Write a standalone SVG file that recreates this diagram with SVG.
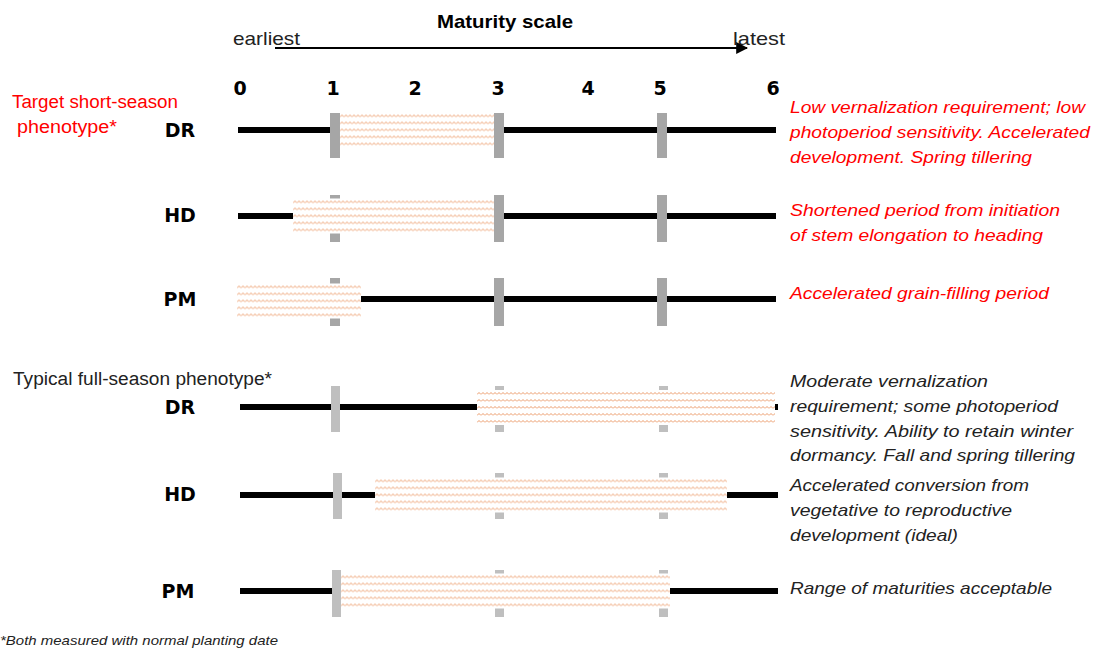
<svg xmlns="http://www.w3.org/2000/svg" width="1094" height="650" viewBox="0 0 1094 650">
<defs>
<pattern id="hatch" patternUnits="userSpaceOnUse" width="4" height="7">
<rect x="0" y="0" width="4" height="7" fill="#fff"/>
<path d="M0 4.5 L2 2.5 L4 4.5" fill="none" stroke="#eb9a68" stroke-width="1"/>
</pattern>
<marker id="arr" viewBox="0 0 10 10" refX="9" refY="5" markerWidth="6" markerHeight="6" orient="auto">
<path d="M0 0 L10 5 L0 10 z" fill="#000"/>
</marker>
</defs>
<style>
.t{font-family:"Liberation Sans",Arial,sans-serif}
.lab{font-family:"DejaVu Sans","Liberation Sans",sans-serif;font-weight:bold;font-size:19px;fill:#000;text-anchor:middle}
.num{font-family:"DejaVu Sans","Liberation Sans",sans-serif;font-weight:bold;font-size:19px;fill:#000;text-anchor:middle}
.desc{font-family:"Liberation Sans",Arial,sans-serif;font-style:italic;font-size:17px}
.red{fill:#ff0000}
.blk{fill:#222}
.line{stroke:#000;stroke-width:6}
.bar1{fill:#a6a6a6}
.bar2{fill:#bfbfbf}
.hb{fill:url(#hatch)}
</style>
<rect width="1094" height="650" fill="#fff"/>

<g id="header">
<text class="t" x="505" y="28" font-size="19" font-weight="bold" text-anchor="middle" fill="#000" textLength="136" lengthAdjust="spacingAndGlyphs">Maturity scale</text>
<text class="t" x="233" y="45" font-size="19" fill="#222" textLength="67" lengthAdjust="spacingAndGlyphs">earliest</text>
<text class="t" x="733" y="45" font-size="19" fill="#222" textLength="52" lengthAdjust="spacingAndGlyphs">latest</text>
</g>
<g id="connectors">
<line x1="275" y1="48" x2="747" y2="48" stroke="#000" stroke-width="2" marker-end="url(#arr)"/>
</g>
<g id="scale">
<text class="num" x="240" y="95">0</text>
<text class="num" x="333" y="95">1</text>
<text class="num" x="415" y="95">2</text>
<text class="num" x="498" y="95">3</text>
<text class="num" x="588" y="95">4</text>
<text class="num" x="660" y="95">5</text>
<text class="num" x="773" y="95">6</text>
</g>

<g id="short-title">
<text class="t red" x="12" y="108" font-size="18" textLength="166" lengthAdjust="spacingAndGlyphs">Target short-season</text>
<text class="t red" x="17" y="133" font-size="18" textLength="100" lengthAdjust="spacingAndGlyphs">phenotype*</text>
</g>

<g id="short-DR">
<text class="lab" x="180" y="137">DR</text>
<line class="line" x1="238" y1="130" x2="776" y2="130"/>
<rect class="bar1" x="330" y="113" width="10" height="45"/>
<rect class="bar1" x="494" y="113" width="10" height="45"/>
<rect class="bar1" x="657" y="113" width="10" height="45"/>
<g transform="translate(340,112.5)"><rect class="hb" x="0" y="0" width="154" height="35"/></g>
</g>

<g id="short-HD">
<text class="lab" x="180" y="222">HD</text>
<line class="line" x1="238" y1="216" x2="776" y2="216"/>
<rect class="bar1" x="330" y="195" width="10" height="47"/>
<rect class="bar1" x="657" y="195" width="10" height="47"/>
<g transform="translate(293,198.5)"><rect class="hb" x="0" y="0" width="202" height="35"/></g>
<rect class="bar1" x="494" y="195" width="10" height="47"/>
</g>

<g id="short-PM">
<text class="lab" x="180" y="306">PM</text>
<line class="line" x1="360" y1="299" x2="776" y2="299"/>
<rect class="bar1" x="330" y="278" width="10" height="48"/>
<rect class="bar1" x="494" y="278" width="10" height="48"/>
<rect class="bar1" x="657" y="278" width="10" height="48"/>
<g transform="translate(237,283.5)"><rect class="hb" x="0" y="0" width="124" height="35"/></g>
</g>

<g id="full-title">
<text class="t blk" x="13" y="385" font-size="18" textLength="259" lengthAdjust="spacingAndGlyphs">Typical full-season phenotype*</text>
</g>

<g id="full-DR">
<text class="lab" x="180" y="414">DR</text>
<line class="line" x1="240" y1="407" x2="778" y2="407"/>
<rect class="bar2" x="331" y="386" width="9" height="46"/>
<rect class="bar2" x="495" y="386" width="9" height="46"/>
<rect class="bar2" x="659" y="386" width="9" height="46"/>
<g transform="translate(477,390)"><rect class="hb" x="0" y="0" width="298" height="35"/></g>
</g>

<g id="full-HD">
<text class="lab" x="180" y="501">HD</text>
<line class="line" x1="240" y1="495" x2="778" y2="495"/>
<rect class="bar2" x="333" y="473" width="9" height="46"/>
<rect class="bar2" x="495" y="473" width="9" height="46"/>
<rect class="bar2" x="659" y="473" width="9" height="46"/>
<g transform="translate(375,477.5)"><rect class="hb" x="0" y="0" width="352" height="35"/></g>
</g>

<g id="full-PM">
<text class="lab" x="178" y="598">PM</text>
<line class="line" x1="240" y1="591" x2="778" y2="591"/>
<rect class="bar2" x="495" y="570" width="9" height="47"/>
<rect class="bar2" x="659" y="570" width="9" height="47"/>
<g transform="translate(341,573.5)"><rect class="hb" x="0" y="0" width="329" height="35"/></g>
<rect class="bar2" x="332" y="570" width="9" height="47"/>
</g>

<g id="desc-short">
<text class="desc red" x="790" y="113" textLength="295" lengthAdjust="spacingAndGlyphs">Low vernalization requirement; low</text>
<text class="desc red" x="790" y="138" textLength="300" lengthAdjust="spacingAndGlyphs">photoperiod sensitivity. Accelerated</text>
<text class="desc red" x="790" y="163" textLength="242" lengthAdjust="spacingAndGlyphs">development. Spring tillering</text>
<text class="desc red" x="790" y="216" textLength="270" lengthAdjust="spacingAndGlyphs">Shortened period from initiation</text>
<text class="desc red" x="790" y="241" textLength="253" lengthAdjust="spacingAndGlyphs">of stem elongation to heading</text>
<text class="desc red" x="790" y="299" textLength="259" lengthAdjust="spacingAndGlyphs">Accelerated grain-filling period</text>
</g>

<g id="desc-full">
<text class="desc blk" x="790" y="387" textLength="198" lengthAdjust="spacingAndGlyphs">Moderate vernalization</text>
<text class="desc blk" x="790" y="412" textLength="268" lengthAdjust="spacingAndGlyphs">requirement; some photoperiod</text>
<text class="desc blk" x="790" y="437" textLength="283" lengthAdjust="spacingAndGlyphs">sensitivity. Ability to retain winter</text>
<text class="desc blk" x="790" y="461" textLength="285" lengthAdjust="spacingAndGlyphs">dormancy. Fall and spring tillering</text>
<text class="desc blk" x="790" y="491" textLength="239" lengthAdjust="spacingAndGlyphs">Accelerated conversion from</text>
<text class="desc blk" x="790" y="516" textLength="222" lengthAdjust="spacingAndGlyphs">vegetative to reproductive</text>
<text class="desc blk" x="790" y="541" textLength="168" lengthAdjust="spacingAndGlyphs">development (ideal)</text>
<text class="desc blk" x="790" y="594" textLength="262" lengthAdjust="spacingAndGlyphs">Range of maturities acceptable</text>
</g>

<g id="footnote">
<text class="t blk" x="0" y="645" font-size="13" font-style="italic" textLength="278" lengthAdjust="spacingAndGlyphs">*Both measured with normal planting date</text>
</g>
</svg>
